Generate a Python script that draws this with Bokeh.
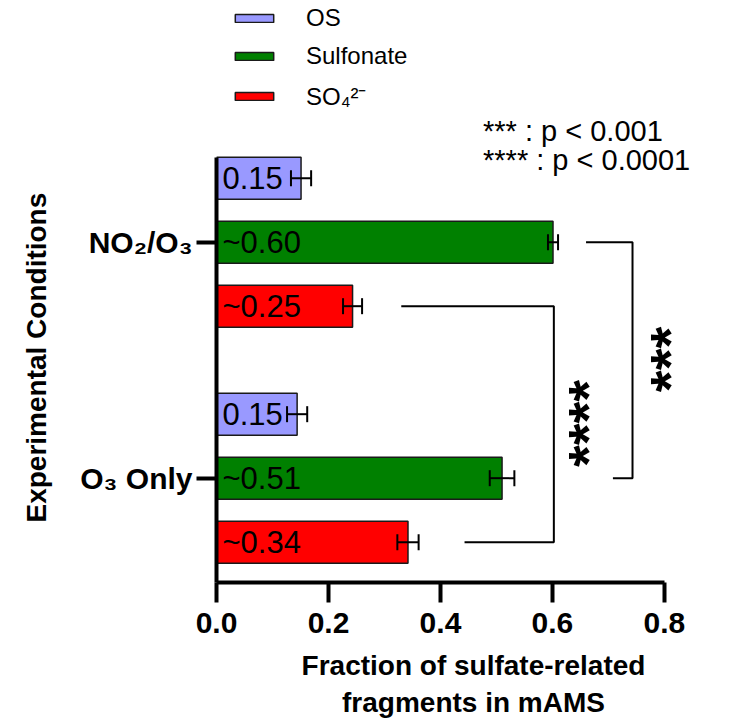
import math
from bokeh.plotting import figure
from bokeh.models import (Range1d, FixedTicker, ColumnDataSource, Whisker, TeeHead,
                          Legend, LegendItem)
from bokeh.embed import file_html
from bokeh.resources import INLINE
from bokeh.core.properties import value

# ---------------- data ----------------
conditions = ["NO₂/O₃", "O₃ Only"]
species = ["OS", "Sulfonate", "SO₄²⁻"]
colors = ["#9999FF", "#008000", "#FF0000"]

os_vals = [0.151, 0.144]
sulfonate_vals = [0.601, 0.510]
so4_vals = [0.243, 0.342]

os_err = [0.018, 0.018]
sulfonate_err = [0.009, 0.022]
so4_err = [0.017, 0.019]

os_labels = ["0.15", "0.15"]
sulfonate_labels = ["~0.60", "~0.51"]
so4_labels = ["~0.25", "~0.34"]

x_ticks = [0.0, 0.2, 0.4, 0.6, 0.8]
x_tick_labels = ["0.0", "0.2", "0.4", "0.6", "0.8"]

sig_marks = ["***", "****"]
sig_legend = ["*** : p < 0.001", "**** : p < 0.0001"]

x_title = "Fraction of sulfate-related\nfragments in mAMS"
y_title = "Experimental Conditions"

# ---------------- layout ----------------
FONT = "Liberation Sans"
group_pos = [3.6875, 0.0]          # NO2/O3, O3 Only
offsets = [1.0, 0.0, -1.0]         # OS, Sulfonate, SO4
bar_h = 0.656

p = figure(width=735, height=724, title=None,
           x_range=Range1d(0, 0.918), y_range=Range1d(-1.63, 7.464),
           min_border_left=216, min_border_right=5, min_border_top=0,
           min_border_bottom=142, output_backend="svg", toolbar_location=None)
p.outline_line_color = None
p.xgrid.visible = False
p.ygrid.visible = False

vals = [os_vals, sulfonate_vals, so4_vals]
errs = [os_err, sulfonate_err, so4_err]
labels = [os_labels, sulfonate_labels, so4_labels]

renderers = []
for i, sp in enumerate(species):
    ys = [g + offsets[i] for g in group_pos]
    src = ColumnDataSource(dict(
        y=ys, right=vals[i],
        lo=[v - e for v, e in zip(vals[i], errs[i])],
        hi=[v + e for v, e in zip(vals[i], errs[i])],
        label=labels[i]))
    r = p.hbar(y="y", right="right", left=0, height=bar_h, source=src,
               fill_color=colors[i], line_color="#1a1a1a", line_width=1.5)
    renderers.append(r)
    w = Whisker(source=src, base="y", lower="lo", upper="hi", dimension="width",
                line_color="black", line_width=2, level="overlay",
                upper_head=TeeHead(size=16, line_width=2, line_color="black"),
                lower_head=TeeHead(size=16, line_width=2, line_color="black"))
    p.add_layout(w)
    p.text(x=0, y="y", text="label", source=src, x_offset=6,
           text_baseline="middle", text_align="left",
           text_font=value(FONT), text_font_size="31px", text_color="black")

# significance brackets: compare Sulfonate (idx 1) and SO4 (idx 2) between conditions
br_species = [1, 2]
br_x_top = [0.660, 0.330]
br_x_vert = [0.743, 0.6025]
br_x_bot = [0.708, 0.443]
xs, ys = [], []
for k, si in enumerate(br_species):
    yt = group_pos[0] + offsets[si]
    yb = group_pos[1] + offsets[si]
    xs.append([br_x_top[k], br_x_vert[k], br_x_vert[k], br_x_bot[k]])
    ys.append([yt, yt, yb, yb])
p.multi_line(xs=xs, ys=ys, line_color="black", line_width=2)

star_x = [0.809, 0.663]
star_y = [1.855, 0.855]
p.text(x=star_x, y=star_y, text=sig_marks, angle=math.pi / 2,
       text_align="center", text_baseline="middle",
       text_font=value(FONT), text_font_style="bold", text_font_size="56px",
       text_color="black")

p.text(x=[0.476, 0.476], y=[5.424, 4.969], text=sig_legend,
       text_align="left", text_baseline="alphabetic",
       text_font=value(FONT), text_font_size="29px", text_color="black")

# legend
legend = Legend(items=[LegendItem(label=species[i], renderers=[renderers[i]])
                       for i in range(3)],
                location=(14, 470), orientation="vertical",
                glyph_width=48, glyph_height=10, label_standoff=28,
                label_text_font=FONT, label_text_font_size="24px",
                label_text_color="black",
                label_height=30, spacing=8, padding=0, margin=0,
                border_line_color=None, background_fill_alpha=0)
p.add_layout(legend)

# axes
xa = p.xaxis[0]
xa.ticker = FixedTicker(ticks=x_ticks)
xa.major_label_overrides = {t: l for t, l in zip(x_ticks, x_tick_labels)}
xa.bounds = (0, 0.8)
xa.axis_line_width = 4
xa.major_tick_line_width = 4
xa.major_tick_out = 20
xa.major_tick_in = 0
xa.minor_tick_out = 0
xa.minor_tick_in = 0
xa.major_label_text_font = FONT
xa.major_label_text_font_style = "bold"
xa.major_label_text_font_size = "30px"
xa.major_label_text_color = "black"
xa.major_label_standoff = 10
xa.axis_label = x_title
xa.axis_label_text_font = FONT
xa.axis_label_text_font_style = "bold"
xa.axis_label_text_font_size = "28px"
xa.axis_label_text_color = "black"
xa.axis_label_text_line_height = 1.22
xa.axis_label_standoff = 14

ya = p.yaxis[0]
ya.ticker = FixedTicker(ticks=group_pos)
ya.major_label_overrides = {g: c for g, c in zip(group_pos, conditions)}
ya.bounds = (-1.63, group_pos[0] + offsets[0] + bar_h / 2)
ya.axis_line_width = 4
ya.major_tick_line_width = 4
ya.major_tick_out = 20
ya.major_tick_in = 0
ya.minor_tick_out = 0
ya.minor_tick_in = 0
ya.major_label_text_font = FONT
ya.major_label_text_font_style = "bold"
ya.major_label_text_font_size = "30px"
ya.major_label_text_color = "black"
ya.major_label_standoff = 4
# the axis title is centred on the frame; trailing no-break spaces shift the
# visible words down to where the reference shows them
ya.axis_label = y_title + "\u00a0" * 17
ya.axis_label_text_font = FONT
ya.axis_label_text_font_style = "bold"
ya.axis_label_text_font_size = "28px"
ya.axis_label_text_color = "black"
ya.axis_label_standoff = 25

open("out.html", "w").write(file_html(p, INLINE))
